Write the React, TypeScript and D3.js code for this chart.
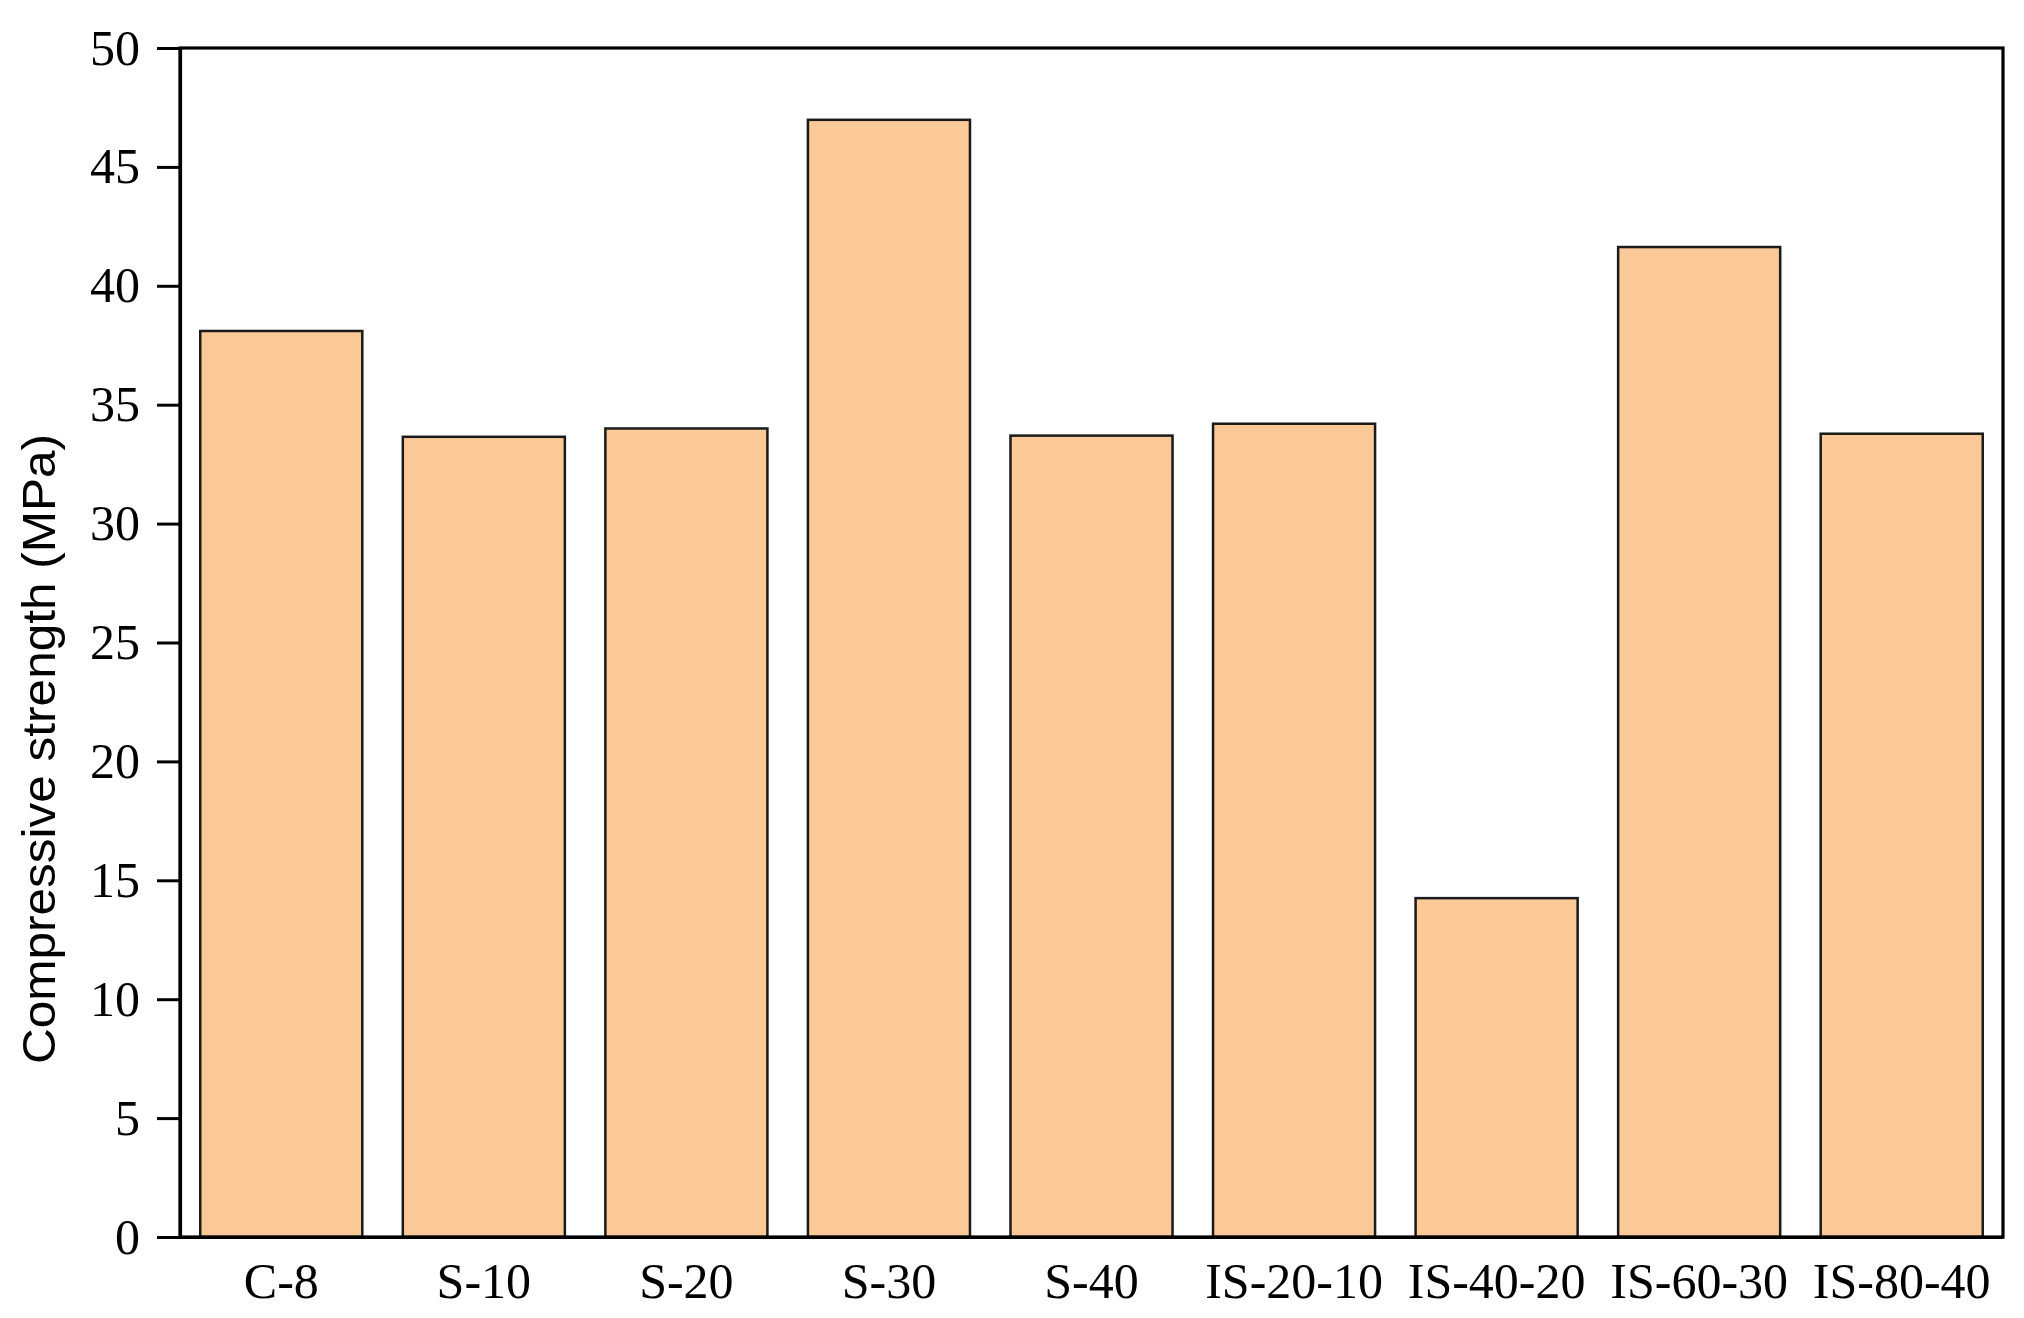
import React, { useEffect, useRef } from 'react'
import * as d3 from 'd3'

const samples = ['C-8', 'S-10', 'S-20', 'S-30', 'S-40', 'IS-20-10', 'IS-40-20', 'IS-60-30', 'IS-80-40']
const strength = [38.1, 33.65, 34.0, 46.98, 33.7, 34.2, 14.25, 41.63, 33.78]
const yTicks = [0, 5, 10, 15, 20, 25, 30, 35, 40, 45, 50]

export default function App() {
  const svgRef = useRef<SVGSVGElement>(null)

  useEffect(() => {
    const W = 2024
    const H = 1318
    const margin = { top: 48, right: 21, bottom: 81, left: 180 }
    const width = W - margin.left - margin.right
    const height = H - margin.top - margin.bottom

    const svg = d3.select(svgRef.current)
    svg.selectAll('*').remove()

    const g = svg.append('g')
      .attr('transform', `translate(${margin.left},${margin.top})`)

    const x = d3.scaleBand<string>()
      .domain(samples)
      .range([0, width])
      .paddingInner(0.2)
      .paddingOuter(0.1)

    const y = d3.scaleLinear()
      .domain([0, 50])
      .range([height, 0])

    // bars
    g.selectAll('rect.bar')
      .data(strength)
      .enter()
      .append('rect')
      .attr('class', 'bar')
      .attr('x', (d, i) => x(samples[i])!)
      .attr('y', d => y(d))
      .attr('width', x.bandwidth())
      .attr('height', d => y(0) - y(d))
      .attr('fill', '#fbc898')
      .attr('stroke', '#1a1a1a')
      .attr('stroke-width', 2.5)

    // frame
    g.append('rect')
      .attr('x', 0)
      .attr('y', 0)
      .attr('width', width)
      .attr('height', height)
      .attr('fill', 'none')
      .attr('stroke', '#000')
      .attr('stroke-width', 3.2)

    // y axis
    const yAxis = g.append('g')
      .call(d3.axisLeft(y).tickValues(yTicks).tickSize(23).tickPadding(17).tickFormat(d3.format('d')))
    yAxis.select('.domain').attr('stroke-width', 3.2)
    yAxis.selectAll('.tick line').attr('stroke-width', 3)
    yAxis.selectAll('.tick text')
      .attr('font-family', '"Liberation Serif", "Times New Roman", serif')
      .attr('font-size', 50)
      .attr('fill', '#000')

    // x axis
    const xAxis = g.append('g')
      .attr('transform', `translate(0,${height})`)
      .call(d3.axisBottom(x).tickSize(0).tickPadding(25))
    xAxis.select('.domain').attr('stroke-width', 3.2)
    xAxis.selectAll('.tick text')
      .attr('font-family', '"Liberation Serif", "Times New Roman", serif')
      .attr('font-size', 50)
      .attr('fill', '#000')

    // y title
    svg.append('text')
      .attr('transform', `translate(55,749) rotate(-90)`)
      .attr('text-anchor', 'middle')
      .attr('font-family', '"Liberation Sans", Arial, sans-serif')
      .attr('font-size', 47)
      .attr('textLength', 630)
      .attr('lengthAdjust', 'spacingAndGlyphs')
      .attr('fill', '#000')
      .text('Compressive strength (MPa)')
  }, [])

  return (
    <svg ref={svgRef} width={2024} height={1318}
      style={{ position: 'absolute', left: 0, top: 0, background: '#fff' }} />
  )
}
